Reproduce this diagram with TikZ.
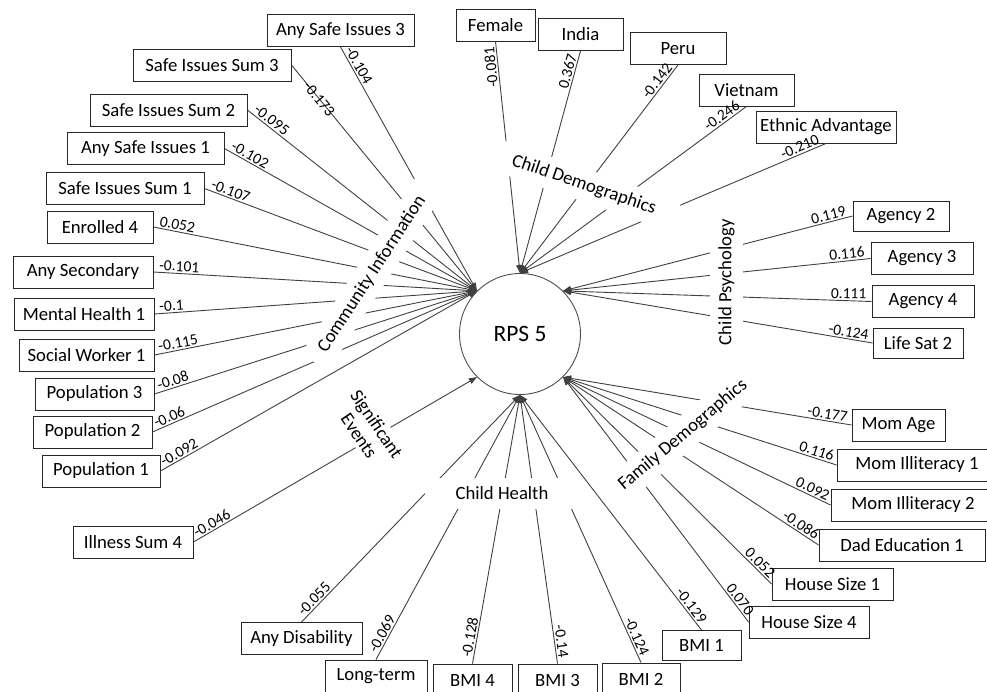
\documentclass[tikz,border=0pt]{standalone}
\usepackage{fontspec}
\setmainfont{Carlito}
\usetikzlibrary{arrows.meta}

\begin{document}
\begin{tikzpicture}[x=1pt,y=-1pt,
   var/.style={draw=black!85, line width=0.9pt, minimum height=32, inner sep=0pt, font=\fontsize{18.7}{21}\selectfont},
   link/.style={draw=black!75, line width=0.9pt, -{Triangle[length=8pt,width=6pt]}},
   coefa/.style={sloped, pos=0, anchor=south west, inner xsep=5pt, inner ysep=1.5pt, font=\fontsize{15.5}{17}\selectfont},
   coefb/.style={coefa, anchor=south east},
   group/.style={fill=white, inner sep=0pt, minimum height=32, font=\fontsize{18.7}{21}\selectfont}]
   \useasboundingbox (0,0) rectangle (987,691);

   \node[circle, draw=black!70, line width=0.9pt, minimum size=121, inner sep=0pt, font=\fontsize{23.5}{26}\selectfont] (rps) at (520,334) {RPS 5};

   % community information
   \node[var, minimum width=147] (anysafe3) at (340.5,30.5) {Any Safe Issues 3};
   \node[var, minimum width=158] (safesum3) at (212,65) {Safe Issues Sum 3};
   \node[var, minimum width=157] (safesum2) at (168.5,110) {Safe Issues Sum 2};
   \node[var, minimum width=157] (anysafe1) at (145.5,148.5) {Any Safe Issues 1};
   \node[var, minimum width=158] (safesum1) at (125,188.5) {Safe Issues Sum 1};
   \node[var, minimum width=106] (enrolled4) at (100,227) {Enrolled 4};
   \node[var, minimum width=140] (anysec) at (83,272) {Any Secondary};
   \node[var, minimum width=140] (mental1) at (84,314) {Mental Health 1};
   \node[var, minimum width=135] (social1) at (86.5,355) {Social Worker 1};
   \node[var, minimum width=119] (pop3) at (94.5,394) {Population 3};
   \node[var, minimum width=119] (pop2) at (92.5,432) {Population 2};
   \node[var, minimum width=118] (pop1) at (101,471) {Population 1};
   % significant events
   \node[var, minimum width=120] (illness4) at (133,542) {Illness Sum 4};
   % child health
   \node[var, minimum width=121] (anydis) at (301.5,638.5) {Any Disability};
   \node[var, minimum width=102] (longterm) at (376,676) {Long-term};
   \node[var, minimum width=79] (bmi4) at (472.5,680) {BMI 4};
   \node[var, minimum width=79] (bmi3) at (557.5,680) {BMI 3};
   \node[var, minimum width=78] (bmi2) at (641,679) {BMI 2};
   \node[var, minimum width=79, minimum height=30] (bmi1) at (701.5,645.5) {BMI 1};
   % family demographics
   \node[var, minimum width=120] (house4) at (809,622) {House Size 4};
   \node[var, minimum width=121] (house1) at (832.5,584) {House Size 1};
   \node[var, minimum width=166] (dadedu1) at (902,545) {Dad Education 1};
   \node[var, minimum width=164] (momilli2) at (913,505) {Mom Illiteracy 2};
   \node[var, minimum width=160] (momilli1) at (917,465) {Mom Illiteracy 1};
   \node[var, minimum width=93] (momage) at (898.5,425) {Mom Age};
   % child psychology
   \node[var, minimum width=90, minimum height=30] (lifesat2) at (918,343) {Life Sat 2};
   \node[var, minimum width=102] (agency4) at (923,301.5) {Agency 4};
   \node[var, minimum width=102] (agency3) at (922,258.5) {Agency 3};
   \node[var, minimum width=96, minimum height=30] (agency2) at (901,216) {Agency 2};
   % child demographics
   \node[var, minimum width=140] (ethnic) at (826,127) {Ethnic Advantage};
   \node[var, minimum width=95] (vietnam) at (746.5,90) {Vietnam};
   \node[var, minimum width=96] (peru) at (678,48.5) {Peru};
   \node[var, minimum width=85] (india) at (580.5,34.5) {India};
   \node[var, minimum width=79] (female) at (495.5,25) {Female};

   \draw[link] (anysafe3.south) -- node[coefa] {-0.104} (rps.135);
   \draw[link] (safesum3.east) -- node[coefa, pos=.15, anchor=center] {-0.173} (rps.135);
   \draw[link] (safesum2.east) -- node[coefa] {-0.095} (rps.135);
   \draw[link] (anysafe1.east) -- node[coefa] {-0.102} (rps.135);
   \draw[link] (safesum1.east) -- node[coefa] {-0.107} (rps.135);
   \draw[link] (enrolled4.east) -- node[coefa] {0.052} (rps.135);
   \draw[link] (anysec.east) -- node[coefa] {-0.101} (rps.135);
   \draw[link] (mental1.east) -- node[coefa] {-0.1} (rps.135);
   \draw[link] (social1.east) -- node[coefa] {-0.115} (rps.135);
   \draw[link] (pop3.east) -- node[coefa] {-0.08} (rps.135);
   \draw[link] (pop2.east) -- node[coefa] {-0.06} (rps.135);
   \draw[link] (pop1.east) -- node[coefa] {-0.092} (rps.135);

   \draw[link] (female.south) -- node[coefb, rotate=180] {-0.081} (rps.90);
   \draw[link] (india.south) -- node[coefb] {0.367} (rps.90);
   \draw[link] (peru.south) -- node[coefb] {-0.142} (rps.90);
   \draw[link] (vietnam.south) -- node[coefb] {-0.246} (rps.90);
   \draw[link] (ethnic.south) -- node[coefb] {-0.210} (rps.90);

   \draw[link] (agency2.west) -- node[coefb] {0.119} (rps.45);
   \draw[link] (agency3.west) -- node[coefb] {0.116} (rps.45);
   \draw[link] (agency4.west) -- node[coefb] {0.111} (rps.45);
   \draw[link] (lifesat2.west) -- node[coefb] {-0.124} (rps.45);

   \draw[link] (momage.west) -- node[coefb] {-0.177} (rps.-45);
   \draw[link] (momilli1.west) -- node[coefb] {0.116} (rps.-45);
   \draw[link] (momilli2.west) -- node[coefb] {0.092} (rps.-45);
   \draw[link] (dadedu1.west) -- node[coefb] {-0.086} (rps.-45);
   \draw[link] (house1.west) -- node[coefb] {0.052} (rps.-45);
   \draw[link] (house4.west) -- node[coefb] {0.070} (rps.-45);

   \draw[link] (bmi1.north) -- node[coefb] {-0.129} (rps.-90);
   \draw[link] (bmi2.north) -- node[coefb] {-0.124} (rps.-90);
   \draw[link] (bmi3.north) -- node[coefb] {-0.14} (rps.-90);
   \draw[link] (bmi4.north) -- node[coefa] {-0.128} (rps.-90);
   \draw[link] (longterm.north) -- node[coefa] {-0.069} (rps.-90);
   \draw[link] (anydis.north) -- node[coefa] {-0.055} (rps.-90);

   \draw[link] (illness4.east) -- node[coefa] {-0.046} (rps.-135);

   % group labels over the lines
   \node[group, rotate=57, minimum width=210] (comminfo) at (372,274) {Community Information};
   \node[group, rotate=-19, minimum width=195] (childdemo) at (584,185) {Child Demographics};
   \node[group, rotate=90, minimum width=150, minimum height=33] (childpsy) at (726.5,282) {Child Psychology};
   \node[group, rotate=40, minimum width=185] (familydemo) at (683,435) {Family Demographics};
   \node[group, minimum width=155, minimum height=31] (childhealth) at (502,493) {Child Health};
   \node[group, rotate=-56, align=center, inner sep=3pt] (sigevents) at (368,430) {Significant\\Events};
\end{tikzpicture}
\end{document}
